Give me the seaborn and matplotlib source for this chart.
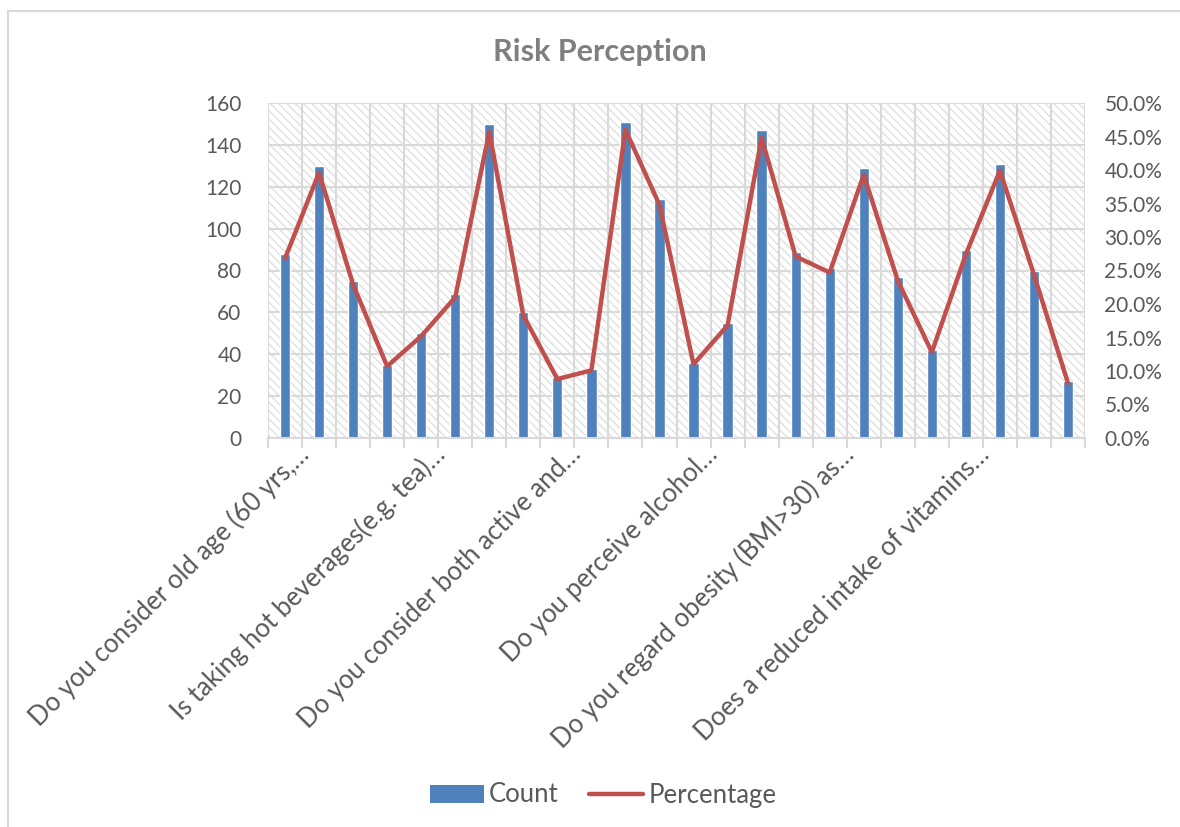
import numpy as np
import pandas as pd
import matplotlib
matplotlib.use("Agg")
import matplotlib.pyplot as plt
import seaborn as sns
from matplotlib.patches import Rectangle, Patch
from matplotlib.lines import Line2D
from matplotlib.ticker import PercentFormatter, MultipleLocator, FixedLocator
import matplotlib.transforms as mtransforms

# ---------------- data ----------------
questions = [
    "Do you consider old age (60 yrs,\u2026",
    "Is taking hot beverages(e.g. tea)\u2026",
    "Do you consider both active and\u2026",
    "Do you perceive alcohol\u2026",
    "Do you regard obesity (BMI>30) as\u2026",
    "Does a reduced intake of vitamins\u2026",
]
responses = ["R1", "R2", "R3", "R4"]
counts = [88, 130, 75, 35,
          50, 69, 150, 60,
          29, 33, 151, 114,
          36, 55, 147, 89,
          81, 129, 77, 42,
          90, 131, 80, 27]
percentages = [26.8, 39.6, 22.9, 10.7,
               15.2, 21.0, 45.7, 18.3,
               8.8, 10.1, 46.0, 34.8,
               11.0, 16.8, 44.8, 27.1,
               24.7, 39.3, 23.5, 12.8,
               27.4, 39.9, 24.4, 8.2]
categories = [f"{q} | {r}" for q in questions for r in responses]
df = pd.DataFrame({"category": categories, "Count": counts, "Percentage": percentages})
df["pos"] = np.arange(len(df))

# ---------------- style ----------------
sns.set_theme(style="white")
plt.rcParams["font.family"] = ["Lato", "DejaVu Sans"]
plt.rcParams["hatch.linewidth"] = 0.9
TXT = "#595959"
GRID = "#d9d9d9"
BAR = "#4f81bd"
LINE = "#c0504d"

W, H = 1180, 827
fig = plt.figure(figsize=(W / 100, H / 100), dpi=100)
fig.patch.set_facecolor("white")

# outer chart border (top and left visible)
fig.add_artist(Line2D([8 / W, 8 / W], [0, 1 - 11 / H], color=GRID, lw=1.5, transform=fig.transFigure))
fig.add_artist(Line2D([8 / W, 1], [1 - 11 / H, 1 - 11 / H], color=GRID, lw=1.5, transform=fig.transFigure))

left, right, top, bottom = 268, 1085, 103, 438
ax = fig.add_axes([left / W, 1 - bottom / H, (right - left) / W, (bottom - top) / H])

# hatched plot background
bg = Rectangle((0, 0), 1, 1, transform=ax.transAxes, facecolor="white",
               edgecolor="#dedede", hatch="\\\\\\\\", lw=0, zorder=0.1)
ax.add_patch(bg)

sns.barplot(data=df, x="category", y="Count", order=categories, color=BAR,
            saturation=1, width=0.3, ax=ax, zorder=2)

ax.set_xlim(-0.5, len(categories) - 0.5)
ax.set_ylim(0, 160)
ax.yaxis.set_major_locator(MultipleLocator(20))
ax.set_axisbelow(True)
ax.grid(axis="y", color=GRID, lw=1.5)

# category tick labels (every 4th)
ax.xaxis.set_major_locator(FixedLocator(list(range(0, len(categories), 4))))
ax.set_xticklabels(questions, rotation=45, ha="right", va="center",
                   rotation_mode="anchor", fontsize=18.5, color=TXT)
ax.xaxis.set_minor_locator(FixedLocator(list(np.arange(-0.5, len(categories), 1.0))))
ax.grid(axis="x", which="minor", color=GRID, lw=1.5)
ax.tick_params(axis="x", which="major", length=0, pad=9)
ax.tick_params(axis="x", which="minor", length=7, width=1.5, color=GRID, bottom=True)
ax.tick_params(axis="y", length=0, pad=19, labelsize=15, labelcolor=TXT)
offset = mtransforms.ScaledTranslation(20 / 100, 0, fig.dpi_scale_trans)
for lbl in ax.get_xticklabels():
    lbl.set_transform(lbl.get_transform() + offset)
ax.set_xlabel("")
ax.set_ylabel("")
for s in ["left", "right", "top"]:
    ax.spines[s].set_visible(False)
ax.spines["bottom"].set_color(GRID)
ax.spines["bottom"].set_linewidth(1.5)

# secondary axis
ax2 = ax.twinx()
sns.lineplot(data=df, x="pos", y="Percentage", color=LINE, lw=3.2, ax=ax2,
             solid_joinstyle="round", solid_capstyle="round", zorder=3)
ax2.set_ylim(0, 50)
ax2.yaxis.set_major_locator(MultipleLocator(5))
ax2.yaxis.set_major_formatter(PercentFormatter(xmax=100, decimals=1))
ax2.tick_params(axis="y", length=0, pad=14, labelsize=15, labelcolor=TXT)
ax2.set_xlabel("")
ax2.set_ylabel("")
for s in ax2.spines.values():
    s.set_visible(False)
ax2.set_xlim(-0.5, len(categories) - 0.5)

fig.text(600 / W, 1 - 52 / H, "Risk Perception", ha="center", va="center",
         fontsize=22, fontweight="bold", color="#7f7f7f")

handles = [Patch(facecolor=BAR, edgecolor="none"),
           Line2D([0], [0], color=LINE, lw=3.2)]
fig.legend(handles, ["Count", "Percentage"], loc="center", ncol=2,
           bbox_to_anchor=(603 / W, 1 - 795 / H), frameon=False,
           fontsize=18.5, labelcolor=TXT, handlelength=2.1, handletextpad=0.2,
           columnspacing=1.2)

fig.savefig("out.png", dpi=100, facecolor="white")
